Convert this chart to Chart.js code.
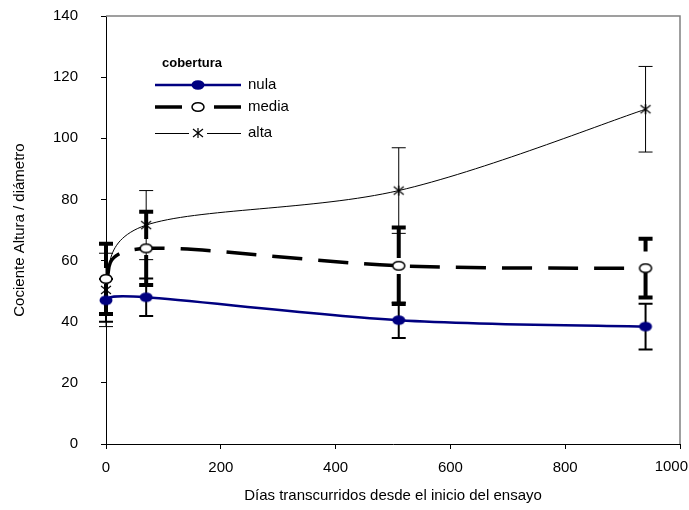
<!DOCTYPE html>
<html>
<head>
<meta charset="utf-8">
<script src="https://cdn.jsdelivr.net/npm/chart.js@4.4.0/dist/chart.umd.min.js"></script>
<style>
html, body { margin: 0; padding: 0; background: #fff; }
</style>
</head>
<body>
<canvas id="myChart" width="689" height="510"></canvas>
<script>
// datos
const dias = [0, 70, 510, 940];
const nula = [47, 48, 40.5, 38.4];
const nulaErr = [7, 6.1, 5.8, 7.5];
const media = [54, 64, 58.3, 57.5];
const mediaErr = [11.5, 12, 12.5, 9.6];
const alta = [50.4, 71.6, 82.9, 109.5];
const altaErr = [12, 11.3, 14, 14];
const xTicks = [0, 200, 400, 600, 800, 1000];
const yTicks = [0, 20, 40, 60, 80, 100, 120, 140];

const fuente = '"Liberation Sans", Arial, sans-serif';
const xMax = xTicks[xTicks.length - 1];

// marcadores dibujados a mano (elipses como en Excel)
function marcador(tipo) {
	const c = document.createElement('canvas');
	c.width = 16;
	c.height = 12;
	const g = c.getContext('2d');
	if (tipo == 'nula') {
		g.fillStyle = '#000080';
		g.beginPath();
		g.ellipse(8, 6, 6.5, 4.8, 0, 0, Math.PI * 2);
		g.fill();
	} else if (tipo == 'media') {
		g.fillStyle = '#fff';
		g.strokeStyle = '#000';
		g.lineWidth = 1.5;
		g.beginPath();
		g.ellipse(8, 6, 6, 4.3, 0, 0, Math.PI * 2);
		g.fill();
		g.stroke();
	} else {
		g.strokeStyle = '#000';
		g.lineWidth = 1.2;
		g.beginPath();
		g.moveTo(3, 2); g.lineTo(13, 10);
		g.moveTo(13, 2); g.lineTo(3, 10);
		g.moveTo(8, 1); g.lineTo(8, 11);
		g.stroke();
	}
	return c;
}

function puntos(vals) {
	return dias.map((d, i) => ({ x: d, y: vals[i] }));
}

// curva suavizada estilo Excel (Catmull-Rom)
const suavizado = {
	id: 'suavizado',
	afterDatasetsUpdate(chart) {
		chart.data.datasets.forEach((ds, k) => {
			const meta = chart.getDatasetMeta(k);
			const line = meta.dataset;
			line.updateControlPoints(chart.chartArea, 'x');
			const p = meta.data;
			const n = p.length;
			for (let i = 0; i < n; i++) {
				const prev = p[Math.max(i - 1, 0)];
				const next = p[Math.min(i + 1, n - 1)];
				const dx = (next.x - prev.x) / 6;
				const dy = (next.y - prev.y) / 6;
				p[i].cp1x = p[i].x - dx;
				p[i].cp1y = p[i].y - dy;
				p[i].cp2x = p[i].x + dx;
				p[i].cp2y = p[i].y + dy;
			}
			line._pointsUpdated = true;
		});
	}
};

// barras de error
const barrasError = {
	id: 'barrasError',
	beforeDatasetsDraw(chart) {
		const ctx = chart.ctx;
		const x = chart.scales.x;
		const y = chart.scales.y;
		chart.data.datasets.forEach((ds) => {
			ctx.save();
			ctx.strokeStyle = '#000';
			ds.data.forEach((p, i) => {
				const px = x.getPixelForValue(p.x);
				const arriba = y.getPixelForValue(p.y + ds.errores[i]);
				const abajo = y.getPixelForValue(p.y - ds.errores[i]);
				ctx.lineWidth = ds.anchoError;
				ctx.setLineDash(ds.trazoError);
				ctx.beginPath();
				ctx.moveTo(px, abajo);
				ctx.lineTo(px, arriba);
				ctx.stroke();
				ctx.setLineDash([]);
				ctx.beginPath();
				ctx.moveTo(px - 7, arriba); ctx.lineTo(px + 7, arriba);
				ctx.moveTo(px - 7, abajo); ctx.lineTo(px + 7, abajo);
				ctx.stroke();
			});
			ctx.restore();
		});
	}
};

// marco gris, leyenda y la última etiqueta del eje x (pegada al borde como en el original)
const marcoLeyenda = {
	id: 'marcoLeyenda',
	afterDraw(chart) {
		const ctx = chart.ctx;
		const a = chart.chartArea;
		ctx.save();
		ctx.strokeStyle = '#808080';
		ctx.lineWidth = 1.5;
		ctx.beginPath();
		ctx.moveTo(a.left, a.top);
		ctx.lineTo(a.right, a.top);
		ctx.lineTo(a.right, a.bottom);
		ctx.stroke();

		ctx.fillStyle = '#000';
		ctx.font = '15px ' + fuente;
		ctx.textAlign = 'right';
		ctx.textBaseline = 'top';
		ctx.fillText(String(xMax), chart.width - 1, a.bottom + 15);
		ctx.textAlign = 'left';

		ctx.textBaseline = 'middle';
		ctx.font = 'bold 13px ' + fuente;
		ctx.fillText('cobertura', 162, 63);
		const filas = [85, 107, 133];
		ctx.font = '15px ' + fuente;
		chart.data.datasets.forEach((ds, i) => {
			const yy = filas[i];
			ctx.strokeStyle = ds.borderColor;
			ctx.lineWidth = ds.borderWidth;
			ctx.beginPath();
			if (i == 0) {
				ctx.moveTo(155, yy); ctx.lineTo(241, yy);
			} else if (i == 1) {
				ctx.moveTo(155, yy); ctx.lineTo(182, yy);
				ctx.moveTo(214, yy); ctx.lineTo(241, yy);
			} else {
				ctx.moveTo(155, yy + 0.5); ctx.lineTo(189, yy + 0.5);
				ctx.moveTo(207, yy + 0.5); ctx.lineTo(241, yy + 0.5);
			}
			ctx.stroke();
			const m = ds.pointStyle;
			ctx.drawImage(m, 198 - m.width / 2, yy - m.height / 2);
			ctx.fillStyle = '#000';
			ctx.fillText(ds.label, 248, yy);
		});
		ctx.restore();
	}
};

const ctx = document.getElementById('myChart');
Chart.defaults.font.family = fuente;
Chart.defaults.color = '#000';

new Chart(ctx, {
	type: 'scatter',
	data: {
		datasets: [{
			label: 'nula',
			data: puntos(nula),
			errores: nulaErr,
			anchoError: 2,
			trazoError: [],
			showLine: true,
			borderColor: '#000080',
			borderWidth: 2.5,
			pointStyle: marcador('nula'),
			tension: 0.4,
			clip: false
		}, {
			label: 'media',
			data: puntos(media),
			errores: mediaErr,
			anchoError: 4,
			trazoError: [30, 16],
			showLine: true,
			borderColor: '#000',
			borderWidth: 3.5,
			borderDash: [30, 16],
			pointStyle: marcador('media'),
			tension: 0.4,
			clip: false
		}, {
			label: 'alta',
			data: puntos(alta),
			errores: altaErr,
			anchoError: 1,
			trazoError: [],
			showLine: true,
			borderColor: '#000',
			borderWidth: 1,
			pointStyle: marcador('alta'),
			tension: 0.4,
			clip: false
		}]
	},
	options: {
		responsive: false,
		animation: false,
		devicePixelRatio: 1,
		layout: { padding: { top: 16, right: 9, left: 0, bottom: 0 } },
		elements: { line: { capBezierPoints: false } },
		scales: {
			x: {
				type: 'linear',
				min: 0,
				max: xMax,
				afterBuildTicks: (s) => { s.ticks = xTicks.map(v => ({ value: v })); },
				afterFit: (s) => { s.height = 66; s.paddingLeft = 0; s.paddingRight = 0; },
				ticks: {
					font: { size: 15 },
					padding: 10,
					maxRotation: 0,
					callback: (v) => (v == xMax ? '' : String(v))
				},
				grid: { drawOnChartArea: false, drawTicks: true, tickLength: 5, color: '#000' },
				border: { color: '#000', width: 1 },
				title: {
					display: true,
					text: 'Días transcurridos desde el inicio del ensayo',
					font: { size: 15 },
					padding: { top: 0, bottom: 5 }
				}
			},
			y: {
				type: 'linear',
				min: 0,
				max: 140,
				afterBuildTicks: (s) => { s.ticks = yTicks.map(v => ({ value: v })); },
				afterFit: (s) => { s.width = 106; s.paddingTop = 0; s.paddingBottom = 0; },
				ticks: { font: { size: 15 }, padding: 23, callback: (v) => String(v) },
				grid: { drawOnChartArea: false, drawTicks: true, tickLength: 5, color: '#000' },
				border: { color: '#000', width: 1 },
				title: {
					display: true,
					text: 'Cociente Altura / diámetro',
					font: { size: 15 },
					padding: { top: 11, bottom: 0 }
				}
			}
		},
		plugins: {
			legend: { display: false },
			tooltip: { enabled: false }
		}
	},
	plugins: [suavizado, barrasError, marcoLeyenda]
});
</script>
</body>
</html>
